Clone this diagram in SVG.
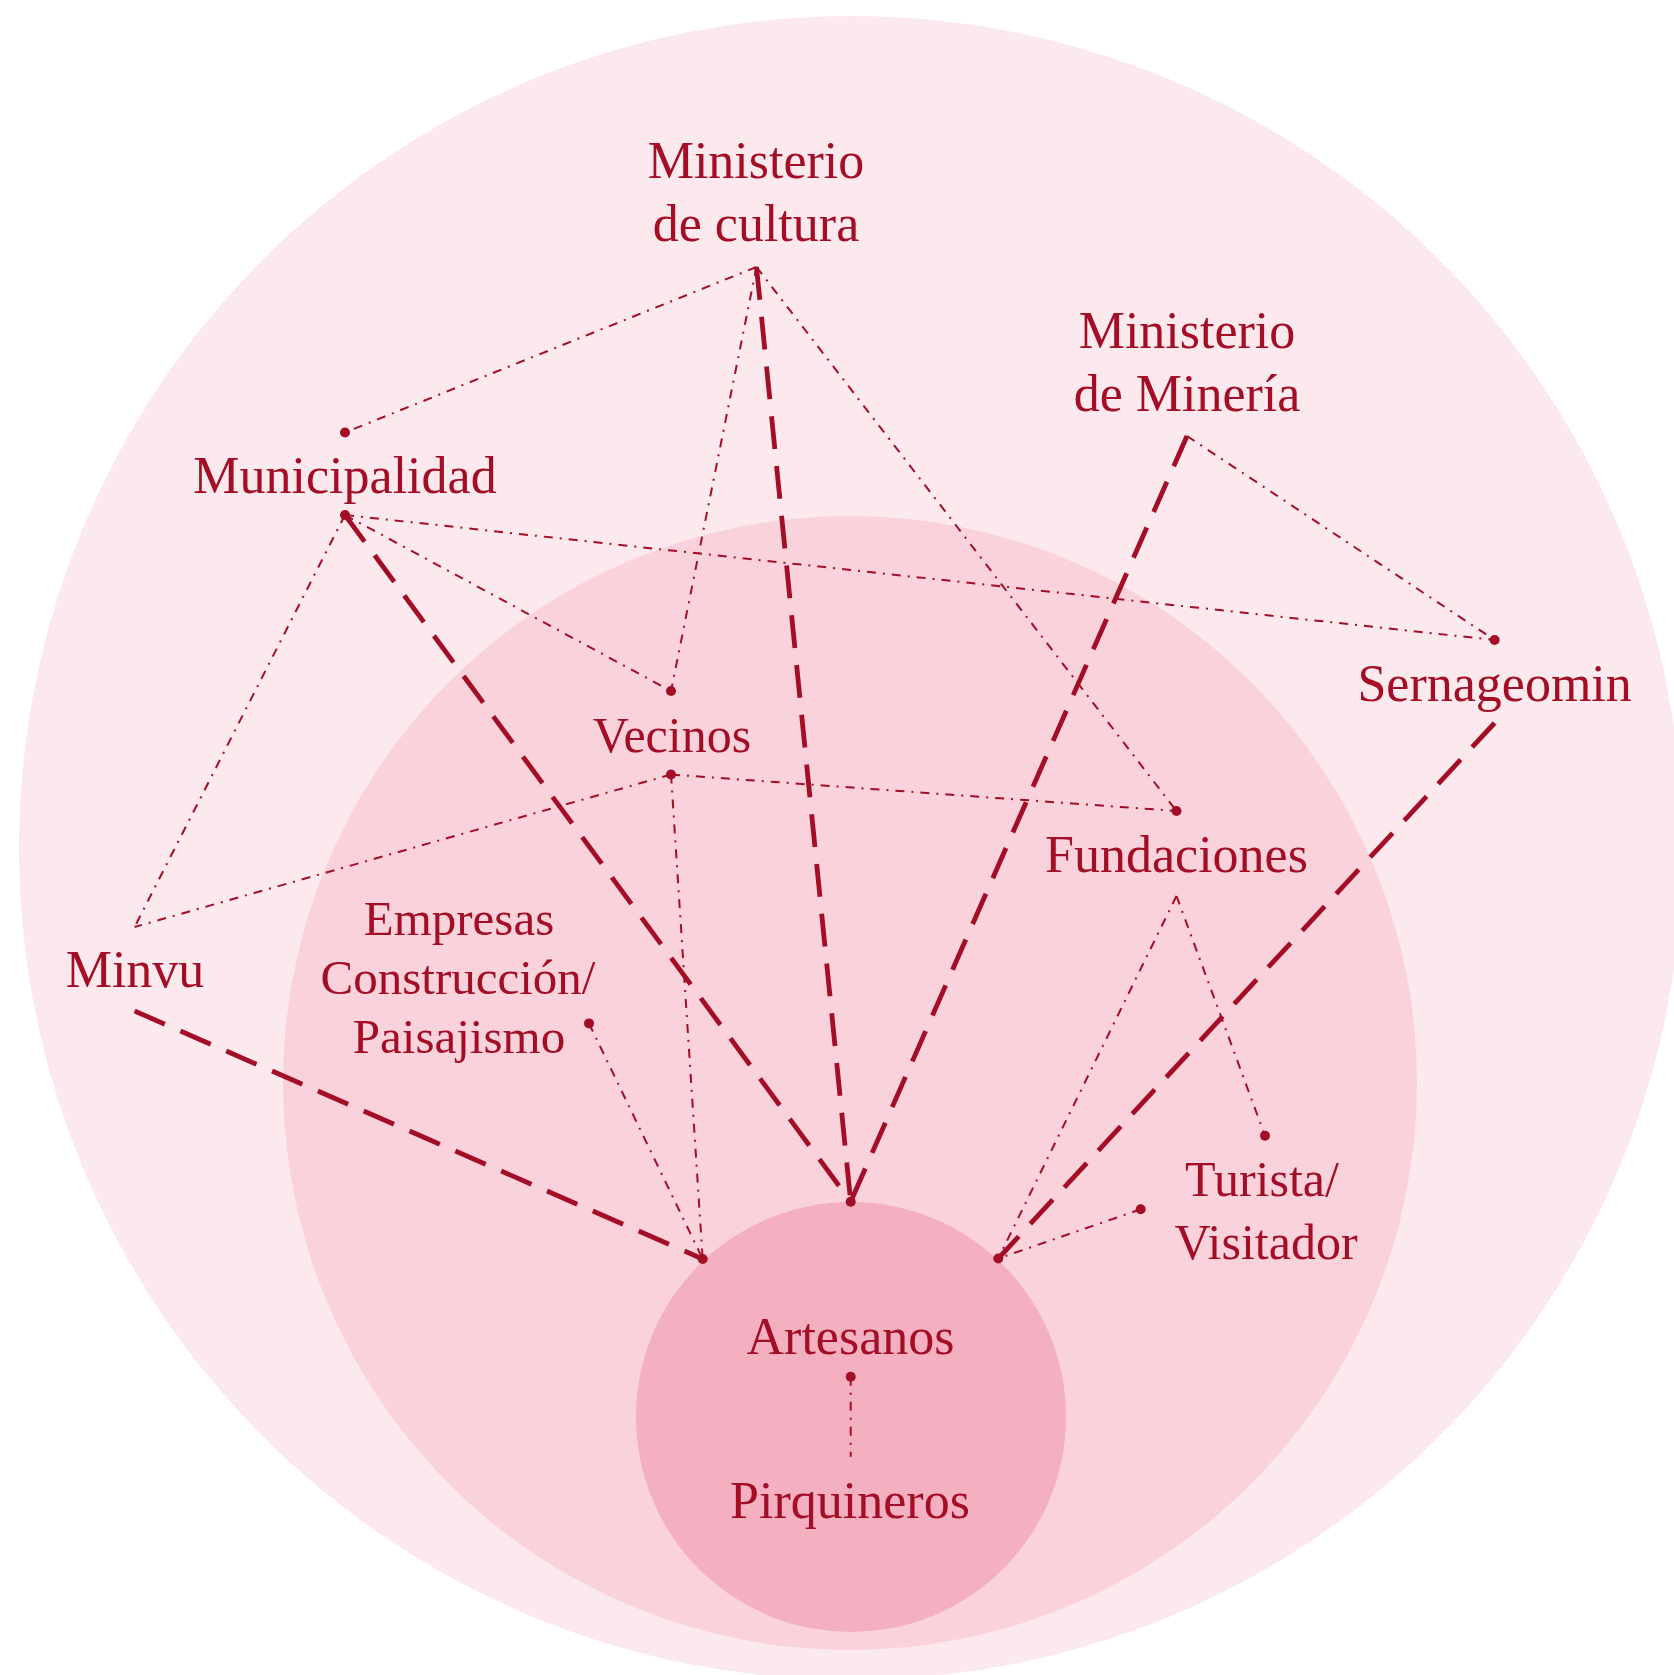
<svg xmlns="http://www.w3.org/2000/svg" width="1674" height="1675" viewBox="0 0 1674 1675">
<style>
.lbl{font-family:"Liberation Serif","Times New Roman",serif;font-size:52px;fill:#A30D25;text-anchor:middle}
.sm{font-size:49px}
.thick{stroke:#A30D25;stroke-width:4.8;fill:none;stroke-dasharray:33 17}
.thin{stroke:#A30D25;stroke-width:2;fill:none;stroke-dasharray:9 7 2 7}
.dot{fill:#A30D25}
</style>
<rect width="1674" height="1675" fill="#ffffff"/>
<g id="backgrounds">
<circle cx="851" cy="848" r="832" fill="#FCE9EE"/>
<circle cx="850" cy="1083" r="567" fill="#F9D2DC"/>
<circle cx="851" cy="1417" r="215" fill="#F4AFC1"/>
</g>
<g id="connectors">
<line class="thick" x1="345" y1="515" x2="850.7" y2="1201.7"/>
<line class="thick" x1="756.5" y1="267" x2="850.7" y2="1201.7"/>
<line class="thick" x1="1187" y1="436" x2="850.7" y2="1201.7"/>
<line class="thick" x1="134.6" y1="1011" x2="702.7" y2="1259"/>
<line class="thick" x1="1494.6" y1="723" x2="998.3" y2="1258.5"/>
<line class="thin" x1="756.5" y1="267" x2="345" y2="432.5"/>
<line class="thin" x1="756.5" y1="267" x2="671" y2="691"/>
<line class="thin" x1="756.5" y1="267" x2="1176.5" y2="811"/>
<line class="thin" x1="345" y1="515" x2="1494.6" y2="640"/>
<line class="thin" x1="345" y1="515" x2="671" y2="691"/>
<line class="thin" x1="345" y1="515" x2="134.6" y2="927"/>
<line class="thin" x1="671" y1="774.5" x2="134.6" y2="927"/>
<line class="thin" x1="671" y1="774.5" x2="1176.5" y2="811"/>
<line class="thin" x1="671" y1="774.5" x2="702.7" y2="1259"/>
<line class="thin" x1="1187" y1="436" x2="1494.6" y2="640"/>
<line class="thin" x1="589" y1="1023.4" x2="702.7" y2="1259"/>
<line class="thin" x1="1176.5" y1="896" x2="1265" y2="1135.7"/>
<line class="thin" x1="1176.5" y1="896" x2="998.3" y2="1258.5"/>
<line class="thin" x1="1140.7" y1="1209.3" x2="998.3" y2="1258.5"/>
<line class="thin" x1="850.7" y1="1376.7" x2="850.7" y2="1456.7"/>
</g>
<g id="n-ministerio-cultura">
<text class="lbl" x="756" y="178">Ministerio</text>
<text class="lbl" x="756" y="241">de cultura</text>
</g>
<g id="n-ministerio-mineria">
<text class="lbl" x="1187" y="348">Ministerio</text>
<text class="lbl" x="1187" y="411">de Minería</text>
</g>
<g id="n-municipalidad">
<circle class="dot" cx="345" cy="432.5" r="5"/>
<text class="lbl" x="345" y="493">Municipalidad</text>
<circle class="dot" cx="345" cy="515" r="5"/>
</g>
<g id="n-sernageomin">
<circle class="dot" cx="1494.6" cy="640" r="5"/>
<text class="lbl" x="1494.6" y="701">Sernageomin</text>
</g>
<g id="n-vecinos">
<circle class="dot" cx="671" cy="691" r="5"/>
<text class="lbl" x="672" y="752" style="font-size:50px">Vecinos</text>
<circle class="dot" cx="671" cy="774.5" r="5"/>
</g>
<g id="n-fundaciones">
<circle class="dot" cx="1176.5" cy="811" r="5"/>
<text class="lbl" x="1176.5" y="872">Fundaciones</text>
</g>
<g id="n-minvu">
<text class="lbl" x="135" y="987">Minvu</text>
</g>
<g id="n-empresas">
<text class="lbl sm" x="459" y="935">Empresas</text>
<text class="lbl sm" x="458" y="994">Construcción/</text>
<text class="lbl sm" x="459" y="1053">Paisajismo</text>
<circle class="dot" cx="589" cy="1023.4" r="5"/>
</g>
<g id="n-turista">
<circle class="dot" cx="1265" cy="1135.7" r="5"/>
<circle class="dot" cx="1140.7" cy="1209.3" r="5"/>
<text class="lbl" x="1262" y="1196" style="font-size:50px">Turista/</text>
<text class="lbl" x="1266" y="1259" style="font-size:50px">Visitador</text>
</g>
<g id="n-artesanos">
<circle class="dot" cx="702.7" cy="1259" r="5"/>
<circle class="dot" cx="850.7" cy="1201.7" r="5"/>
<circle class="dot" cx="998.3" cy="1258.5" r="5"/>
<text class="lbl" x="850.5" y="1354">Artesanos</text>
<circle class="dot" cx="850.7" cy="1376.7" r="5"/>
</g>
<g id="n-pirquineros">
<text class="lbl" x="850" y="1518">Pirquineros</text>
</g>
</svg>
